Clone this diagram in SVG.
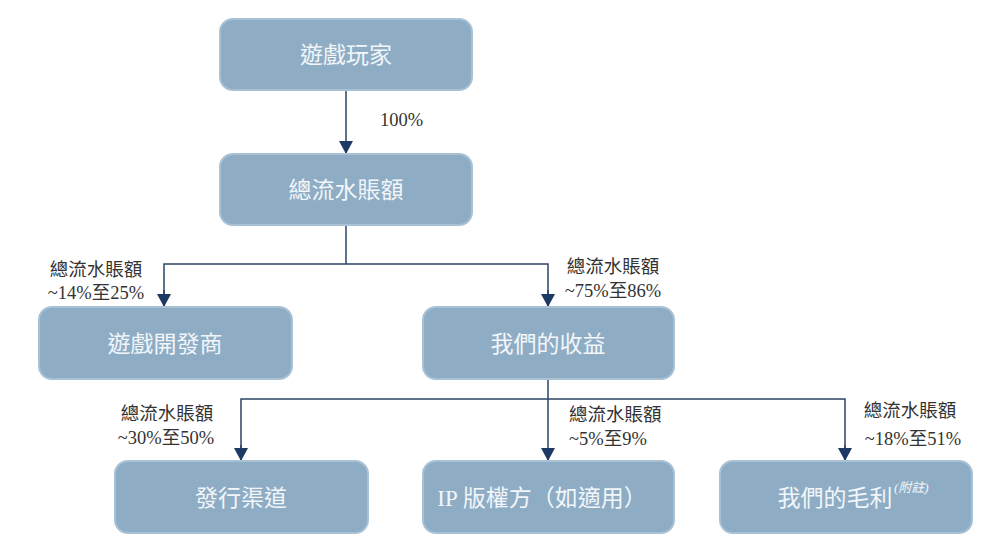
<svg xmlns="http://www.w3.org/2000/svg" width="1000" height="553" viewBox="0 0 1000 553">
<defs>
<style>
.box{fill:#8eadc5;stroke:#a9c1d5;stroke-width:2}
.nt{font-family:"Liberation Serif","Noto Sans CJK TC",serif;font-size:23px;fill:#f2f6f9;text-anchor:middle}
.lb{font-family:"Liberation Serif","Noto Sans CJK TC",serif;font-size:18.5px;fill:#333333}
.ln{fill:none;stroke:#2b4467;stroke-width:1.5}
</style>
<marker id="ah" viewBox="0 0 13 14" refX="13" refY="7" markerWidth="13" markerHeight="14" markerUnits="userSpaceOnUse" orient="auto">
<path d="M0,0 L13,7 L0,14 Z" fill="#1c3a63"/>
</marker>
</defs>
<rect width="1000" height="553" fill="#ffffff"/>
<g id="connectors">
<line class="ln" x1="346" y1="90" x2="346" y2="154" marker-end="url(#ah)"/>
<polyline class="ln" points="346,225 346,264"/>
<polyline class="ln" points="164,307 164,264 548,264 548,307"/>
<line x1="164" y1="290" x2="164" y2="307" class="ln" marker-end="url(#ah)"/>
<line x1="548" y1="290" x2="548" y2="307" class="ln" marker-end="url(#ah)"/>
<polyline class="ln" points="548,379 548,399"/>
<polyline class="ln" points="241,461 241,399 845,399 845,461"/>
<line class="ln" x1="548" y1="399" x2="548" y2="461" marker-end="url(#ah)"/>
<line x1="241" y1="445" x2="241" y2="461" class="ln" marker-end="url(#ah)"/>
<line x1="845" y1="445" x2="845" y2="461" class="ln" marker-end="url(#ah)"/>
<text class="lb" x="380" y="126">100%</text>
<text class="lb" x="96" y="276" text-anchor="middle">總流水賬額</text>
<text class="lb" x="96" y="299" text-anchor="middle">~14%至25%</text>
<text class="lb" x="613" y="273" text-anchor="middle">總流水賬額</text>
<text class="lb" x="613" y="297" text-anchor="middle">~75%至86%</text>
<text class="lb" x="167" y="420" text-anchor="middle">總流水賬額</text>
<text class="lb" x="166" y="444" text-anchor="middle">~30%至50%</text>
<text class="lb" x="569" y="421">總流水賬額</text>
<text class="lb" x="569" y="445">~5%至9%</text>
<text class="lb" x="910" y="417" text-anchor="middle">總流水賬額</text>
<text class="lb" x="913" y="445" text-anchor="middle">~18%至51%</text>
</g>
<g id="node-players">
<rect class="box" x="220" y="19" width="252" height="71" rx="13"/>
<text class="nt" x="346" y="63">遊戲玩家</text>
</g>
<g id="node-gross">
<rect class="box" x="220" y="154" width="252" height="71" rx="13"/>
<text class="nt" x="346" y="198">總流水賬額</text>
</g>
<g id="node-developer">
<rect class="box" x="39" y="307" width="253" height="72" rx="13"/>
<text class="nt" x="165" y="352">遊戲開發商</text>
</g>
<g id="node-revenue">
<rect class="box" x="423" y="307" width="251" height="72" rx="13"/>
<text class="nt" x="548" y="352">我們的收益</text>
</g>
<g id="node-channel">
<rect class="box" x="115" y="461" width="253" height="72" rx="13"/>
<text class="nt" x="241" y="506">發行渠道</text>
</g>
<g id="node-ip">
<rect class="box" x="423" y="461" width="251" height="72" rx="13"/>
<text class="nt" x="542" y="506">IP 版權方（如適用）</text>
</g>
<g id="node-gross-profit">
<rect class="box" x="720" y="461" width="252" height="72" rx="13"/>
<text class="nt" x="835" y="506">我們的毛利</text>
<text x="894" y="492" font-family="'Liberation Serif','Noto Sans CJK TC',serif" font-size="13" font-style="italic" fill="#f2f6f9">(附註)</text>
</g>
</svg>
